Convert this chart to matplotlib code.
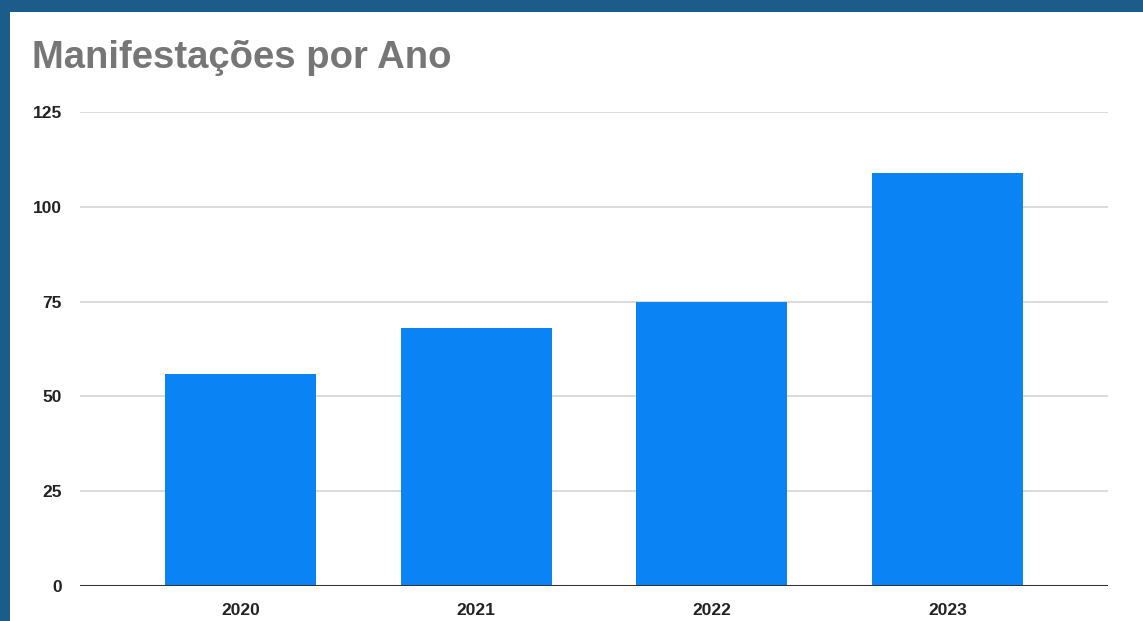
import matplotlib.pyplot as plt
from matplotlib.patches import Rectangle

anos = ["2020", "2021", "2022", "2023"]
manifestacoes = [56, 68, 75, 109]
yticks = [0, 25, 50, 75, 100, 125]

plt.rcParams['font.family'] = ['Liberation Sans', 'DejaVu Sans']

fig = plt.figure(figsize=(11.43, 6.21), dpi=100)
fig.patch.set_facecolor('#1b5c8a')
# white card behind the chart
card = Rectangle((10 / 1143, 0), 1, 1 - 12 / 621, transform=fig.transFigure,
                 facecolor='white', edgecolor='none', zorder=-10)
fig.add_artist(card)

ax = fig.add_axes([80 / 1143, 35 / 621, 1028 / 1143, 474 / 621], zorder=5)
ax.set_facecolor('white')

x = range(len(anos))
ax.bar(x, manifestacoes, width=0.64, color='#0a84f5', zorder=2)

ax.set_xlim(-0.68, 3.68)
ax.set_ylim(0, 125)
ax.set_yticks(yticks)
ax.set_xticks(list(x))
ax.set_xticklabels(anos)
ax.grid(axis='y', color='#d6d6d6', linewidth=1.2, zorder=0)
ax.set_axisbelow(True)
ax.axhline(0, color='#333333', linewidth=2.2, zorder=3)

for s in ax.spines.values():
    s.set_visible(False)
ax.tick_params(length=0, labelsize=12.5, labelcolor='#222222')
ax.tick_params(axis='y', pad=13)
ax.tick_params(axis='x', pad=12)
for lbl in ax.get_xticklabels() + ax.get_yticklabels():
    lbl.set_fontweight('bold')

fig.text(32 / 1143, 1 - 58 / 621, "Manifestações por Ano", fontsize=27.5,
         fontweight='bold', color='#767676', va='center', ha='left', zorder=6)

fig.savefig('out.png', dpi=100)
